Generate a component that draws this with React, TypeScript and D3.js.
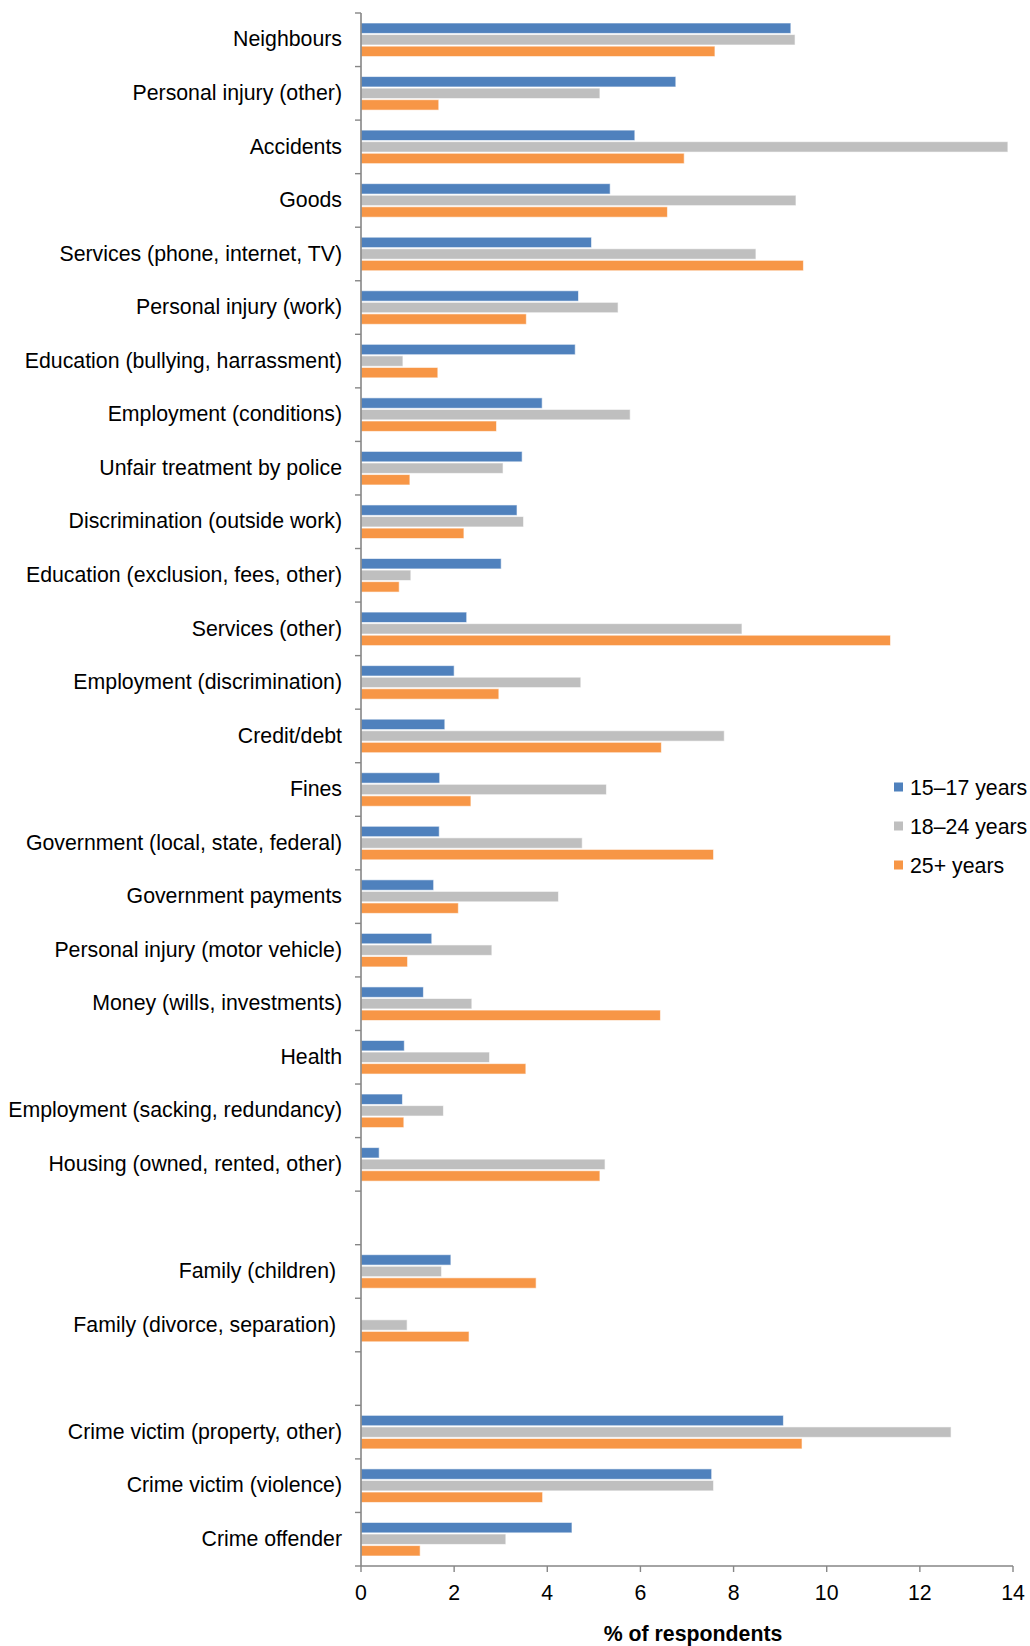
import React from "react";
import * as d3 from "d3";

const categories: string[] = [
  "Neighbours",
  "Personal injury (other)",
  "Accidents",
  "Goods",
  "Services (phone, internet, TV)",
  "Personal injury (work)",
  "Education (bullying, harrassment)",
  "Employment (conditions)",
  "Unfair treatment by police",
  "Discrimination (outside work)",
  "Education (exclusion, fees, other)",
  "Services (other)",
  "Employment (discrimination)",
  "Credit/debt",
  "Fines",
  "Government (local, state, federal)",
  "Government payments",
  "Personal injury (motor vehicle)",
  "Money (wills, investments)",
  "Health",
  "Employment (sacking, redundancy)",
  "Housing (owned, rented, other)",
  "",
  "Family (children) ",
  "Family (divorce, separation) ",
  "",
  "Crime victim (property, other)",
  "Crime victim (violence)",
  "Crime offender",
];

const years15to17: (number | null)[] = [
  9.23, 6.76, 5.88, 5.35, 4.95, 4.67, 4.6, 3.89, 3.46, 3.35, 3.01, 2.27, 2.0, 1.8, 1.69, 1.68, 1.56, 1.52,
  1.34, 0.93, 0.89, 0.39, null, 1.93, null, null, 9.07, 7.53, 4.53,
];
const years18to24: (number | null)[] = [
  9.32, 5.13, 13.89, 9.34, 8.48, 5.52, 0.9, 5.78, 3.05, 3.49, 1.07, 8.18, 4.72, 7.8, 5.27, 4.75, 4.24, 2.81,
  2.38, 2.76, 1.77, 5.24, null, 1.73, 0.99, null, 12.67, 7.57, 3.11,
];
const years25plus: (number | null)[] = [
  7.6, 1.67, 6.94, 6.58, 9.5, 3.55, 1.65, 2.91, 1.05, 2.21, 0.82, 11.37, 2.96, 6.45, 2.36, 7.57, 2.09, 1.0,
  6.43, 3.54, 0.92, 5.13, null, 3.76, 2.32, null, 9.47, 3.9, 1.27,
];

const seriesNames = ["15\u201317 years", "18\u201324 years", "25+ years"];
const seriesColors = ["#4F81BD", "#BFBFBF", "#F79646"];
const xTicks = [0, 2, 4, 6, 8, 10, 12, 14];

const W = 1030;
const H = 1646;
const FONT = "'Liberation Sans', Arial, sans-serif";

export default function App() {
  const left = 361;
  const right = 1013;
  const top = 13;
  const bottom = 1566;

  const x = d3.scaleLinear().domain([0, 14]).range([left, right]);
  const idx = categories.map((_, i) => String(i));
  const y = d3.scaleBand<string>().domain(idx).range([top, bottom]).paddingInner(0).paddingOuter(0);
  const inner = d3
    .scaleBand<number>()
    .domain([0, 1, 2])
    .range([10, y.bandwidth() - 10])
    .paddingInner(0.1)
    .paddingOuter(0);

  const series = [years15to17, years18to24, years25plus];
  const boundaries = d3.range(categories.length + 1).map((i) => top + i * y.bandwidth());
  const axisColor = "#868686";

  return (
    <svg
      width={W}
      height={H}
      style={{ position: "absolute", left: 0, top: 0, background: "#fff" }}
      fontFamily={FONT}
    >
      {series.map((vals, s) =>
        vals.map((v, i) =>
          v == null || v <= 0 ? null : (
            <rect
              key={`b-${s}-${i}`}
              x={x(0)}
              y={(y(String(i)) as number) + (inner(s) as number)}
              width={x(v) - x(0)}
              height={inner.bandwidth()}
              fill={seriesColors[s]}
              stroke="#ffffff"
              strokeOpacity={0.6}
              strokeWidth={1}
            />
          )
        )
      )}

      <line x1={left} x2={left} y1={top} y2={bottom} stroke={axisColor} strokeWidth={1.6} />
      {boundaries.map((b, i) => (
        <line key={`yt-${i}`} x1={left - 6} x2={left} y1={b} y2={b} stroke={axisColor} strokeWidth={1.4} />
      ))}

      {categories.map((c, i) =>
        c ? (
          <text
            key={`cl-${i}`}
            x={342}
            y={(y(String(i)) as number) + y.bandwidth() / 2 - 1}
            dy="0.36em"
            textAnchor="end"
            fontSize={21.3}
            fill="#000"
            style={{ whiteSpace: "pre" }}
          >
            {c}
          </text>
        ) : null
      )}

      <line x1={left} x2={right} y1={bottom} y2={bottom} stroke={axisColor} strokeWidth={1.6} />
      {xTicks.map((t) => (
        <g key={`xt-${t}`}>
          <line x1={x(t)} x2={x(t)} y1={bottom} y2={bottom + 6} stroke={axisColor} strokeWidth={1.4} />
          <text x={x(t)} y={1600} textAnchor="middle" fontSize={21.3} fill="#000">
            {t}
          </text>
        </g>
      ))}
      <text x={693} y={1641} textAnchor="middle" fontSize={21.3} fontWeight="bold" fill="#000">
        % of respondents
      </text>

      {seriesNames.map((n, s) => (
        <g key={`lg-${s}`} transform={`translate(894, ${787 + s * 39})`}>
          <rect x={0} y={-4.5} width={9} height={9} fill={seriesColors[s]} />
          <text x={16} y={0} dy="0.36em" fontSize={21.3} fill="#000">
            {n}
          </text>
        </g>
      ))}
    </svg>
  );
}
